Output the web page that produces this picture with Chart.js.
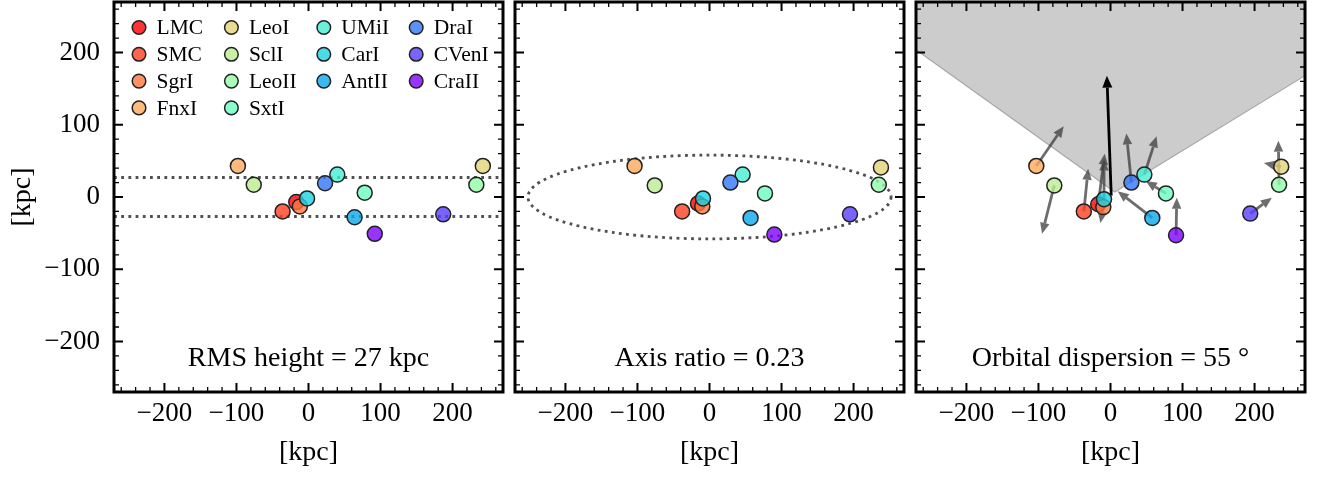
<!DOCTYPE html>
<html>
<head>
<meta charset="utf-8">
<script src="https://cdn.jsdelivr.net/npm/chart.js@4.4.0/dist/chart.umd.min.js"></script>
<style>
  html, body { margin: 0; padding: 0; background: #fff; }
  .panel { position: absolute; top: 0; height: 478px; }
</style>
</head>
<body>
<div class="panel" style="left:0;width:509px"><canvas id="c1"></canvas></div>
<div class="panel" style="left:509px;width:400px"><canvas id="c2"></canvas></div>
<div class="panel" style="left:909px;width:411px"><canvas id="c3"></canvas></div>
<script>
// satellites, in legend order
const names = ['LMC', 'SMC', 'SgrI', 'FnxI', 'LeoI', 'SclI', 'LeoII', 'SxtI', 'UMiI', 'CarI', 'AntII', 'DraI', 'CVenI', 'CraII'];
const colors = ['rgba(255,0,0,0.8)', 'rgba(255,61,31,0.8)', 'rgba(255,119,61,0.8)', 'rgba(255,169,91,0.8)',
  'rgba(226,210,119,0.8)', 'rgba(186,238,145,0.8)', 'rgba(147,253,169,0.8)', 'rgba(108,253,191,0.8)',
  'rgba(69,238,210,0.8)', 'rgba(29,210,226,0.8)', 'rgba(10,169,238,0.8)', 'rgba(49,119,248,0.8)',
  'rgba(88,61,253,0.8)', 'rgba(128,0,255,0.8)'];

// panel 1: RMS height
const x1 = [-17, -36, -12, -98, 242, -76, 233, 78, 40, -2, 64, 23, 187, 92];
const y1 = [-7, -20, -13, 43, 43, 17, 17, 6, 31, -2, -28, 19, -24, -51];
const rmsHeight = 27;

// panel 2: axis ratio
const x2 = [-16, -38, -10, -104, 238, -76, 235, 77, 46, -9, 57, 29, 195, 90];
const y2 = [-9, -20, -13, 43, 41, 16, 17, 5, 31, -2, -29, 20, -24, -52];
const ellipseA = 252, ellipseB = 58;

// panel 3: orbital dispersion
const x3 = [-17, -37, -10, -103, 237, -78, 234, 77, 47, -9, 58, 29, 194, 91];
const y3 = [-10, -20, -14, 43, 42, 16, 17, 5, 31, -3, -29, 20, -23, -53];
const poleDX = [9, 6, -4, 38, -24, -17, -1, -28, 17, 0, -48, -7, 30, 1];
const poleDY = [70, 59, -22, 55, 5, -67, 61, 17, 53, 55, 37, 68, 22, 52];
const meanPoleX = [1, -5];
const meanPoleY = [2, 168];
const coneX = [-270, 6, 270];
const coneY = [204, 7, 168];

const texts = ['RMS height = 27 kpc', 'Axis ratio = 0.23', 'Orbital dispersion = 55 °'];

const SERIF = '"Liberation Serif", "DejaVu Serif", serif';
const LIM = 270;
const MINOR = 20;

function fmt(v) {
  if (v % 100 !== 0) return '';
  return v < 0 ? '\u2212' + Math.abs(v) : String(v);
}

function buildTicks(s) {
  const t = [];
  for (let v = -Math.floor(LIM / MINOR) * MINOR; v <= LIM; v += MINOR) t.push({ value: v });
  s.ticks = t;
}

function arrow(ctx, xa, ya, xb, yb, color, lw, hl, hw) {
  const ang = Math.atan2(yb - ya, xb - xa);
  const bx = xb - hl * Math.cos(ang), by = yb - hl * Math.sin(ang);
  ctx.strokeStyle = color;
  ctx.lineWidth = lw;
  ctx.beginPath();
  ctx.moveTo(xa, ya);
  ctx.lineTo(bx, by);
  ctx.stroke();
  ctx.fillStyle = color;
  ctx.beginPath();
  ctx.moveTo(xb, yb);
  ctx.lineTo(bx + hw / 2 * Math.sin(ang), by - hw / 2 * Math.cos(ang));
  ctx.lineTo(bx - hw / 2 * Math.sin(ang), by + hw / 2 * Math.cos(ang));
  ctx.closePath();
  ctx.fill();
}

const decor = {
  id: 'decor',
  beforeDatasetsDraw(chart, args, opts) {
    const ctx = chart.ctx, a = chart.chartArea;
    const sx = chart.scales.x, sy = chart.scales.y;
    ctx.save();
    ctx.beginPath();
    ctx.rect(a.left, a.top, a.right - a.left, a.bottom - a.top);
    ctx.clip();
    ctx.strokeStyle = '#505050';
    ctx.lineWidth = 2.8;
    ctx.setLineDash([2.8, 4.4]);
    if (opts.kind === 'rms') {
      [rmsHeight, -rmsHeight].forEach(h => {
        const py = sy.getPixelForValue(h);
        ctx.beginPath();
        ctx.moveTo(a.left, py);
        ctx.lineTo(a.right, py);
        ctx.stroke();
      });
    }
    if (opts.kind === 'ellipse') {
      const cx = sx.getPixelForValue(0), cy = sy.getPixelForValue(0);
      ctx.beginPath();
      ctx.ellipse(cx, cy, sx.getPixelForValue(ellipseA) - cx, cy - sy.getPixelForValue(ellipseB), 0, 0, Math.PI * 2);
      ctx.stroke();
    }
    ctx.setLineDash([]);
    if (opts.kind === 'orbit') {
      ctx.fillStyle = '#cccccc';
      ctx.beginPath();
      ctx.moveTo(sx.getPixelForValue(coneX[0]), sy.getPixelForValue(LIM));
      coneX.forEach((cx, i) => ctx.lineTo(sx.getPixelForValue(cx), sy.getPixelForValue(coneY[i])));
      ctx.lineTo(sx.getPixelForValue(coneX[2]), sy.getPixelForValue(LIM));
      ctx.closePath();
      ctx.fill();
      ctx.strokeStyle = '#a8a8a8';
      ctx.lineWidth = 1.2;
      ctx.beginPath();
      coneX.forEach((cx, i) => {
        const p = [sx.getPixelForValue(cx), sy.getPixelForValue(coneY[i])];
        if (i === 0) ctx.moveTo(p[0], p[1]); else ctx.lineTo(p[0], p[1]);
      });
      ctx.stroke();
      x3.forEach((x, i) => {
        arrow(ctx, sx.getPixelForValue(x), sy.getPixelForValue(y3[i]),
          sx.getPixelForValue(x + poleDX[i]), sy.getPixelForValue(y3[i] + poleDY[i]),
          'rgba(60,60,60,0.75)', 2.8, 11, 9.5);
      });
      arrow(ctx, sx.getPixelForValue(meanPoleX[0]), sy.getPixelForValue(meanPoleY[0]),
        sx.getPixelForValue(meanPoleX[1]), sy.getPixelForValue(meanPoleY[1]),
        '#000', 2.8, 12, 10);
    }
    ctx.restore();
  },
  afterDraw(chart, args, opts) {
    const ctx = chart.ctx, a = chart.chartArea;
    const sx = chart.scales.x, sy = chart.scales.y;
    ctx.save();
    ctx.strokeStyle = '#000';
    // inward ticks on all four sides
    sx.ticks.forEach(t => {
      const major = t.value % 100 === 0;
      const len = major ? 9 : 5;
      ctx.lineWidth = major ? 2 : 1.3;
      const p = sx.getPixelForValue(t.value);
      ctx.beginPath();
      ctx.moveTo(p, a.bottom); ctx.lineTo(p, a.bottom - len);
      ctx.moveTo(p, a.top); ctx.lineTo(p, a.top + len);
      ctx.stroke();
    });
    sy.ticks.forEach(t => {
      const major = t.value % 100 === 0;
      const len = major ? 9 : 5;
      ctx.lineWidth = major ? 2 : 1.3;
      const p = sy.getPixelForValue(t.value);
      ctx.beginPath();
      ctx.moveTo(a.left, p); ctx.lineTo(a.left + len, p);
      ctx.moveTo(a.right, p); ctx.lineTo(a.right - len, p);
      ctx.stroke();
    });
    ctx.lineWidth = 3;
    ctx.strokeRect(a.left, a.top, a.right - a.left, a.bottom - a.top);

    // annotation
    ctx.fillStyle = '#000';
    ctx.font = '28px ' + SERIF;
    ctx.textAlign = 'center';
    ctx.textBaseline = 'alphabetic';
    ctx.fillText(opts.text, (a.left + a.right) / 2, a.bottom - 26);

    // legend: 4 columns filled top to bottom, first columns get the extra rows
    if (opts.legend) {
      const ncol = 4;
      const nrow = Math.ceil(names.length / ncol);
      const full = names.length % ncol || ncol;
      ctx.font = '21.5px ' + SERIF;
      ctx.textAlign = 'left';
      ctx.textBaseline = 'middle';
      let col = 0, row = 0;
      names.forEach((n, i) => {
        const mx = a.left + 25 + col * 92.4, my = a.top + 25.5 + row * 26.8;
        ctx.beginPath();
        ctx.arc(mx, my, 6.8, 0, Math.PI * 2);
        ctx.fillStyle = colors[i];
        ctx.fill();
        ctx.lineWidth = 1.5;
        ctx.strokeStyle = '#222';
        ctx.stroke();
        ctx.fillStyle = '#000';
        ctx.fillText(n, mx + 17.5, my + 1);
        row++;
        if (row >= (col < full ? nrow : nrow - 1)) { row = 0; col++; }
      });
    }
    ctx.restore();
  }
};

function makeChart(id, xs, ys, kind, text, showY, yWidth, padRight) {
  const tickFont = { family: SERIF, size: 27 };
  const titleFont = { family: SERIF, size: 28 };
  return new Chart(document.getElementById(id), {
    type: 'scatter',
    data: {
      datasets: [{
        data: xs.map((x, i) => ({ x: x, y: ys[i] })),
        pointRadius: 7.5,
        pointBorderWidth: 1.5,
        pointBackgroundColor: colors,
        pointBorderColor: '#222'
      }]
    },
    options: {
      responsive: true,
      maintainAspectRatio: false,
      animation: false,
      events: [],
      layout: { autoPadding: false, padding: { top: 2, right: padRight, left: 0, bottom: 0 } },
      plugins: {
        legend: { display: false },
        tooltip: { enabled: false },
        decor: { kind: kind, text: text, legend: kind === 'rms' }
      },
      scales: {
        x: {
          type: 'linear', min: -LIM, max: LIM,
          grid: { display: false, drawTicks: false },
          border: { display: false },
          afterBuildTicks: buildTicks,
          ticks: { autoSkip: false, maxRotation: 0, padding: 6,
                   font: tickFont, color: '#000', callback: fmt },
          title: { display: true, text: '[kpc]', font: titleFont, color: '#000', padding: { top: 0, bottom: 9 } },
          afterFit(s) { s.height = 86; s.paddingLeft = 0; s.paddingRight = 0; }
        },
        y: {
          type: 'linear', min: -LIM, max: LIM,
          grid: { display: false, drawTicks: false },
          border: { display: false },
          afterBuildTicks: buildTicks,
          ticks: { display: showY, autoSkip: false, padding: 14,
                   font: tickFont, color: '#000', callback: fmt },
          title: { display: showY, text: '[kpc]', font: titleFont, color: '#000', padding: { top: 6, bottom: 0 } },
          afterFit(s) { s.width = yWidth; s.paddingTop = 0; s.paddingBottom = 0; }
        }
      }
    },
    plugins: [decor]
  });
}

makeChart('c1', x1, y1, 'rms', texts[0], true, 114, 6);
makeChart('c2', x2, y2, 'ellipse', texts[1], false, 6, 5);
makeChart('c3', x3, y3, 'orbit', texts[2], false, 7, 15);
</script>
</body>
</html>
